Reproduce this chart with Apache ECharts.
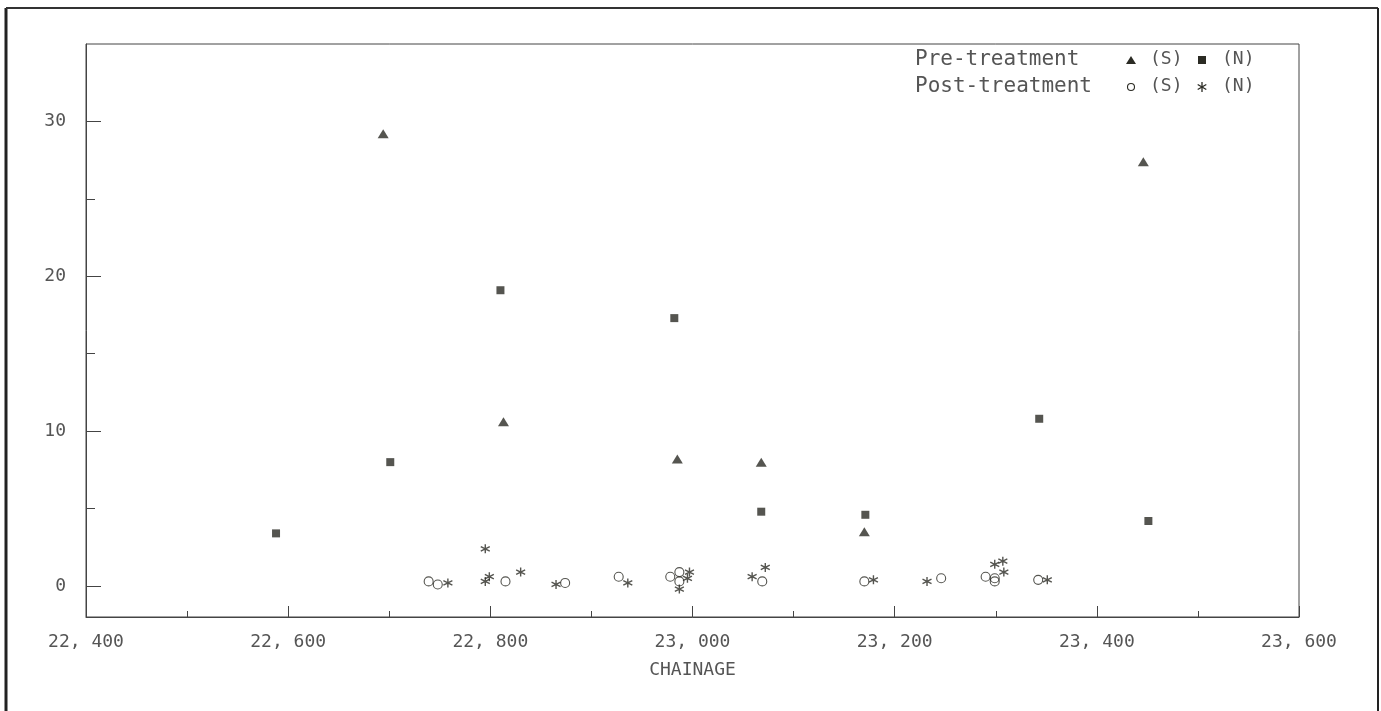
<!DOCTYPE html>
<html>
<head>
<meta charset="utf-8">
<script src="https://cdn.jsdelivr.net/npm/echarts@6/dist/echarts.min.js"></script>
<style>
  html, body { margin: 0; padding: 0; background: #fff; }
  #main { width: 1381px; height: 711px; }
</style>
</head>
<body>
<div id="main"></div>
<script>
// pre-treatment (S) - triangles
const preS_x = [22694, 22813, 22985, 23068, 23170, 23446];
const preS_y = [29.2, 10.6, 8.2, 8.0, 3.5, 27.4];
// pre-treatment (N) - squares
const preN_x = [22588, 22701, 22810, 22982, 23068, 23171, 23343, 23451];
const preN_y = [3.4, 8.0, 19.1, 17.3, 4.8, 4.6, 10.8, 4.2];
// post-treatment (S) - circles
const postS_x = [22739, 22748, 22815, 22874, 22927, 22978, 22987, 22987, 23069, 23170, 23246, 23290, 23299, 23299, 23342];
const postS_y = [0.3, 0.1, 0.3, 0.2, 0.6, 0.6, 0.9, 0.3, 0.3, 0.3, 0.5, 0.6, 0.5, 0.3, 0.4];
// post-treatment (N) - asterisks
const postN_x = [22758, 22795, 22795, 22799, 22830, 22865, 22936, 22987, 22995, 22997, 23059, 23072, 23179, 23232, 23299, 23307, 23308, 23351];
const postN_y = [0.2, 2.4, 0.3, 0.6, 0.9, 0.1, 0.2, -0.2, 0.5, 0.9, 0.6, 1.2, 0.4, 0.3, 1.4, 1.6, 0.9, 0.4];

const yMajor = [0, 10, 20, 30];
const yMinor = [5, 15, 25];

const ink = '#2b2b24';
const grey = '#555';
const font = 'DejaVu Sans Mono';
const star = 'path://M0,-5L0,5M-4.33,-2.5L4.33,2.5M-4.33,2.5L4.33,-2.5';

function pairs(xs, ys) {
  return xs.map(function(x, i) { return [x, ys[i]]; });
}

var chart = echarts.init(document.getElementById('main'));

var lx = 915, sx1 = 1131, tx1 = 1150, sx2 = 1202, tx2 = 1222;
var r1 = 60, r2 = 87;

chart.setOption({
  backgroundColor: '#fff',
  animation: false,
  grid: { left: 86, right: 82, top: 44, bottom: 94, show: true, borderColor: '#444', borderWidth: 1 },
  xAxis: {
    type: 'value', min: 22400, max: 23600, interval: 200,
    name: 'CHAINAGE', nameLocation: 'middle', nameGap: 44,
    nameTextStyle: { fontFamily: font, fontSize: 18, color: grey },
    axisLine: { show: true, onZero: false, lineStyle: { color: '#444', width: 1 } },
    axisTick: { show: true, inside: true, length: 11, lineStyle: { color: '#444' } },
    minorTick: { show: true, splitNumber: 2, length: 6, lineStyle: { color: '#444' } },
    axisLabel: {
      margin: 16, fontFamily: font, fontSize: 18, color: grey,
      formatter: function(v) { return String(v).slice(0, 2) + ', ' + String(v).slice(2); }
    },
    splitLine: { show: false }
  },
  yAxis: [
    {
      type: 'value', min: -2, max: 35,
      axisLine: { show: true, onZero: false, lineStyle: { color: '#444', width: 1 } },
      axisTick: { show: true, inside: true, length: 15, customValues: yMajor, lineStyle: { color: '#444' } },
      axisLabel: { customValues: yMajor, margin: 20, fontFamily: font, fontSize: 18, color: grey },
      splitLine: { show: false }
    },
    {
      type: 'value', min: -2, max: 35, position: 'left',
      axisLine: { show: false },
      axisTick: { show: true, inside: true, length: 9, customValues: yMinor, lineStyle: { color: '#444' } },
      axisLabel: { show: false },
      splitLine: { show: false }
    }
  ],
  series: [
    { name: 'Pre (S)', type: 'scatter', symbol: 'triangle', symbolSize: [11, 9],
      itemStyle: { color: ink }, data: pairs(preS_x, preS_y) },
    { name: 'Pre (N)', type: 'scatter', symbol: 'rect', symbolSize: 8,
      itemStyle: { color: ink }, data: pairs(preN_x, preN_y) },
    { name: 'Post (S)', type: 'scatter', symbol: 'circle', symbolSize: 9,
      itemStyle: { color: 'rgba(0,0,0,0)', borderColor: ink, borderWidth: 1.1 }, data: pairs(postS_x, postS_y) },
    { name: 'Post (N)', type: 'scatter', symbol: star, symbolSize: 9,
      itemStyle: { color: 'rgba(0,0,0,0)', borderColor: ink, borderWidth: 1.4 }, data: pairs(postN_x, postN_y) }
  ],
  graphic: [
    // scanned page frame
    { type: 'line', shape: { x1: 6, y1: 8, x2: 6, y2: 711 }, style: { stroke: '#222', lineWidth: 3 } },
    { type: 'line', shape: { x1: 6, y1: 8, x2: 1378, y2: 8 }, style: { stroke: '#333', lineWidth: 2 } },
    { type: 'line', shape: { x1: 1378, y1: 8, x2: 1378, y2: 711 }, style: { stroke: '#222', lineWidth: 2 } },
    // legend
    { type: 'text', left: lx, top: r1 - 11, style: { text: 'Pre-treatment', fontFamily: font, fontSize: 21, fill: grey } },
    { type: 'text', left: lx, top: r2 - 11, style: { text: 'Post-treatment', fontFamily: font, fontSize: 21, fill: grey } },
    { type: 'polygon', shape: { points: [[sx1 - 5, r1 + 4], [sx1 + 5, r1 + 4], [sx1, r1 - 4]] }, style: { fill: ink } },
    { type: 'rect', shape: { x: sx2 - 4, y: r1 - 4, width: 8, height: 8 }, style: { fill: ink } },
    { type: 'circle', shape: { cx: sx1, cy: r2, r: 3.5 }, style: { fill: 'none', stroke: ink, lineWidth: 1.1 } },
    { type: 'polyline', shape: { points: [[sx2, r2 - 5], [sx2, r2 + 5]] }, style: { stroke: ink, lineWidth: 1.3 } },
    { type: 'polyline', shape: { points: [[sx2 - 4.3, r2 - 2.5], [sx2 + 4.3, r2 + 2.5]] }, style: { stroke: ink, lineWidth: 1.3 } },
    { type: 'polyline', shape: { points: [[sx2 - 4.3, r2 + 2.5], [sx2 + 4.3, r2 - 2.5]] }, style: { stroke: ink, lineWidth: 1.3 } },
    { type: 'text', left: tx1, top: r1 - 10, style: { text: '(S)', fontFamily: font, fontSize: 18, fill: grey } },
    { type: 'text', left: tx2, top: r1 - 10, style: { text: '(N)', fontFamily: font, fontSize: 18, fill: grey } },
    { type: 'text', left: tx1, top: r2 - 10, style: { text: '(S)', fontFamily: font, fontSize: 18, fill: grey } },
    { type: 'text', left: tx2, top: r2 - 10, style: { text: '(N)', fontFamily: font, fontSize: 18, fill: grey } }
  ]
});
</script>
</body>
</html>
